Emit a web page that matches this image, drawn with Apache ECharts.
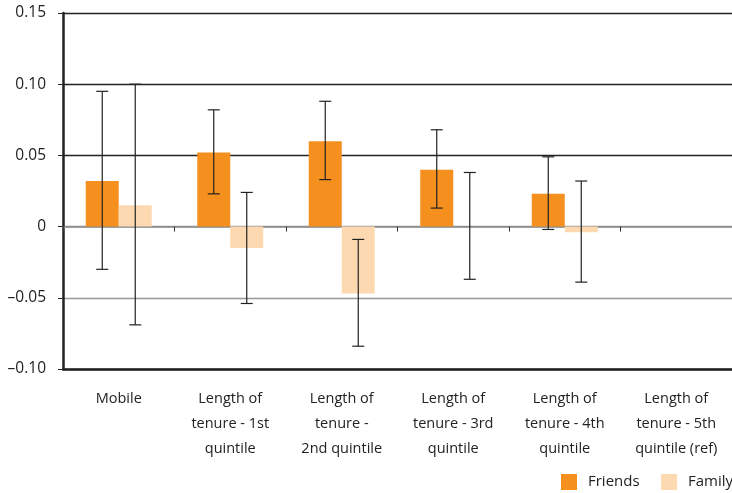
<!DOCTYPE html>
<html><head><meta charset="utf-8">
<script src="https://cdn.jsdelivr.net/npm/echarts@6/dist/echarts.min.js"></script>
<style>html,body{margin:0;padding:0;background:#fff}#c{width:732px;height:493px}</style>
</head><body><div id="c"></div>
<script>
const categories = ['Mobile', 'Length of\ntenure - 1st\nquintile', 'Length of\ntenure -\n2nd quintile', 'Length of\ntenure - 3rd\nquintile', 'Length of\ntenure - 4th\nquintile', 'Length of\ntenure - 5th\nquintile (ref)'];
const friends = [0.032, 0.052, 0.060, 0.040, 0.023, null];
const family = [0.015, -0.015, -0.047, 0, -0.004, null];
const friendsLow = [-0.030, 0.023, 0.033, 0.013, -0.002, null];
const friendsHigh = [0.095, 0.082, 0.088, 0.068, 0.049, null];
const familyLow = [-0.069, -0.054, -0.084, -0.037, -0.039, null];
const familyHigh = [0.100, 0.024, -0.009, 0.038, 0.032, null];
const yTicks = { min: -0.10, max: 0.15, interval: 0.05 };

const BAR_W = 33;
const FONT = '"Open Sans", sans-serif';

function errSeries(low, high, side) {
  return {
    type: 'custom',
    xAxisIndex: 0,
    z: 5,
    silent: true,
    data: low.map((l, i) => l == null ? null : [i, l, high[i]]).filter(d => d),
    renderItem: function (params, api) {
      const x = api.value(0);
      const p1 = api.coord([x, api.value(1)]);
      const p2 = api.coord([x, api.value(2)]);
      const cx = p1[0] + side * BAR_W / 2;
      const cap = 6;
      const st = { stroke: '#222', lineWidth: 1.2 };
      return {
        type: 'group',
        children: [
          { type: 'line', shape: { x1: cx, y1: p1[1], x2: cx, y2: p2[1] }, style: st },
          { type: 'line', shape: { x1: cx - cap, y1: p1[1], x2: cx + cap, y2: p1[1] }, style: st },
          { type: 'line', shape: { x1: cx - cap, y1: p2[1], x2: cx + cap, y2: p2[1] }, style: st }
        ]
      };
    }
  };
}

function legendFor(name, left) {
  return {
    left: left, top: 474, padding: 0,
    itemWidth: 16, itemHeight: 16,
    icon: 'rect',
    textStyle: { fontFamily: FONT, fontSize: 15, color: '#222', padding: [0, 0, 0, 6] },
    data: [name]
  };
}

const chart = echarts.init(document.getElementById('c'));
chart.setOption({
  animation: false,
  textStyle: { fontFamily: FONT },
  grid: { left: 63, right: 0, top: 13, bottom: 124, containLabel: false },
  legend: [legendFor('Friends', 561), legendFor('Family', 661)],
  xAxis: [{
    type: 'category', data: categories, position: 'bottom',
    axisLine: { onZero: false, lineStyle: { color: '#222', width: 2.5 } },
    axisTick: { show: false },
    axisLabel: { fontFamily: FONT, fontSize: 14.5, color: '#222', lineHeight: 25, margin: 17, interval: 0 }
  }, {
    type: 'category', data: categories, position: 'bottom',
    axisLine: { onZero: true, lineStyle: { color: '#8a8a8a', width: 1.5 } },
    axisTick: { show: true, inside: false, length: 5, lineStyle: { color: '#333' } },
    axisLabel: { show: false }
  }],
  yAxis: {
    type: 'value', min: yTicks.min, max: yTicks.max, interval: yTicks.interval,
    axisLine: { show: true, lineStyle: { color: '#222', width: 2.5 } },
    axisTick: { show: true, length: 5, lineStyle: { color: '#222' } },
    axisLabel: {
      fontFamily: FONT, fontSize: 15.5, color: '#222', margin: 17,
      formatter: v => {
        const r = Math.round(v * 100) / 100;
        if (r === 0) return '0';
        return (r < 0 ? '\u2013' : '') + Math.abs(r).toFixed(2);
      }
    },
    splitLine: { show: true, lineStyle: { color: ['#222', '#999', '#999', '#222', '#222', '#222'], width: 1.3 } }
  },
  series: [{
    name: 'Friends', type: 'bar', data: friends, barWidth: BAR_W, barGap: '0%',
    itemStyle: { color: '#F5901F' }, z: 2
  }, {
    name: 'Family', type: 'bar', data: family, barWidth: BAR_W, barGap: '0%',
    itemStyle: { color: '#FDD9B2' }, z: 2
  },
  errSeries(friendsLow, friendsHigh, -1),
  errSeries(familyLow, familyHigh, 1)
  ]
});
</script></body></html>
